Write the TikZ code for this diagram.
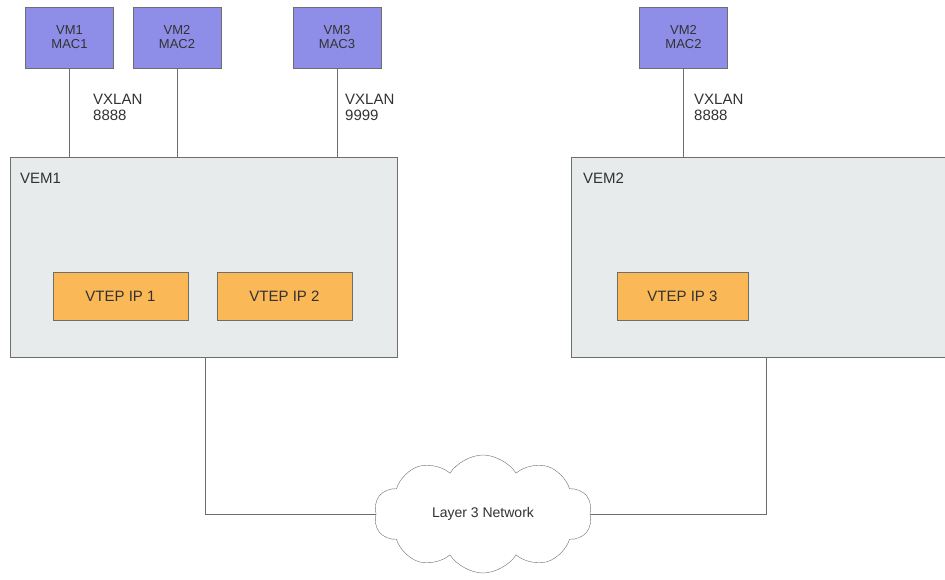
\documentclass[tikz,border=0pt]{standalone}
\usepackage{fontspec}
\setmainfont{Liberation Sans}
\usetikzlibrary{shapes.symbols}
\definecolor{vmblue}{RGB}{142,142,232}
\definecolor{veporange}{RGB}{250,184,86}
\definecolor{vemgray}{RGB}{231,235,235}
\definecolor{edgegray}{RGB}{110,110,110}
\definecolor{txtgray}{RGB}{50,50,50}
\tikzset{
  vm/.style={rectangle, draw=edgegray, fill=vmblue, minimum width=88pt, minimum height=61pt, align=center, text=txtgray, font=\fontsize{13}{14}\selectfont},
  vem/.style={rectangle, draw=edgegray, fill=vemgray, anchor=north west},
  vtep/.style={rectangle, draw=edgegray, fill=veporange, minimum width=135pt, minimum height=48pt, text=txtgray, font=\fontsize{15}{16}\selectfont},
  lbl/.style={align=left, anchor=north west, inner sep=0pt, text=txtgray, font=\fontsize{15}{16}\selectfont},
  link/.style={draw=edgegray, line width=0.9pt}
}
\begin{document}
\begin{tikzpicture}[x=1pt, y=-1pt]
            \useasboundingbox (0,0) rectangle (945,579);
            %nodes
            \node[vem, minimum width=387pt, minimum height=200pt] (vem1) at (10,157) {};
            \node[vem, minimum width=380pt, minimum height=200pt] (vem2) at (571,157) {};
            \node[lbl] (vemlbl1) at (20,173) {VEM1};
            \node[lbl] (vemlbl2) at (583,173) {VEM2};

            \node[vm] (vm1) at (69.5,37.5) {VM1\\MAC1};
            \node[vm] (vm2) at (177,37.5) {VM2\\MAC2};
            \node[vm] (vm3) at (337,37.5) {VM3\\MAC3};
            \node[vm] (vm4) at (683.5,37.5) {VM2\\MAC2};

            \node[vtep] (vtep1) at (120.5,296) {VTEP IP 1};
            \node[vtep] (vtep2) at (284.5,296) {VTEP IP 2};
            \node[vtep, minimum width=131pt] (vtep3) at (682.5,296) {VTEP IP 3};

            \node[cloud, cloud puffs=10, cloud puff arc=115, aspect=1.9, draw=edgegray, fill=white, minimum width=218pt, minimum height=118pt, text=txtgray, font=\fontsize{14}{15}\selectfont] (net) at (483,514) {Layer 3 Network};

            \node[lbl] (vx1) at (93,94) {VXLAN\\8888};
            \node[lbl] (vx2) at (345,94) {VXLAN\\9999};
            \node[lbl] (vx3) at (694,94) {VXLAN\\8888};

            \coordinate (up1) at (205,357);
            \coordinate (up2) at (766,357);

            %edges
            \draw[link] (vm1.south) -- (vm1.south |- vem1.north);
            \draw[link] (vm2.south) -- (vm2.south |- vem1.north);
            \draw[link] (vm3.south) -- (vm3.south |- vem1.north);
            \draw[link] (vm4.south) -- (vm4.south |- vem2.north);
            \draw[link] (up1) |- (net.west);
            \draw[link] (up2) |- (net.east);
        \end{tikzpicture}
\end{document}
